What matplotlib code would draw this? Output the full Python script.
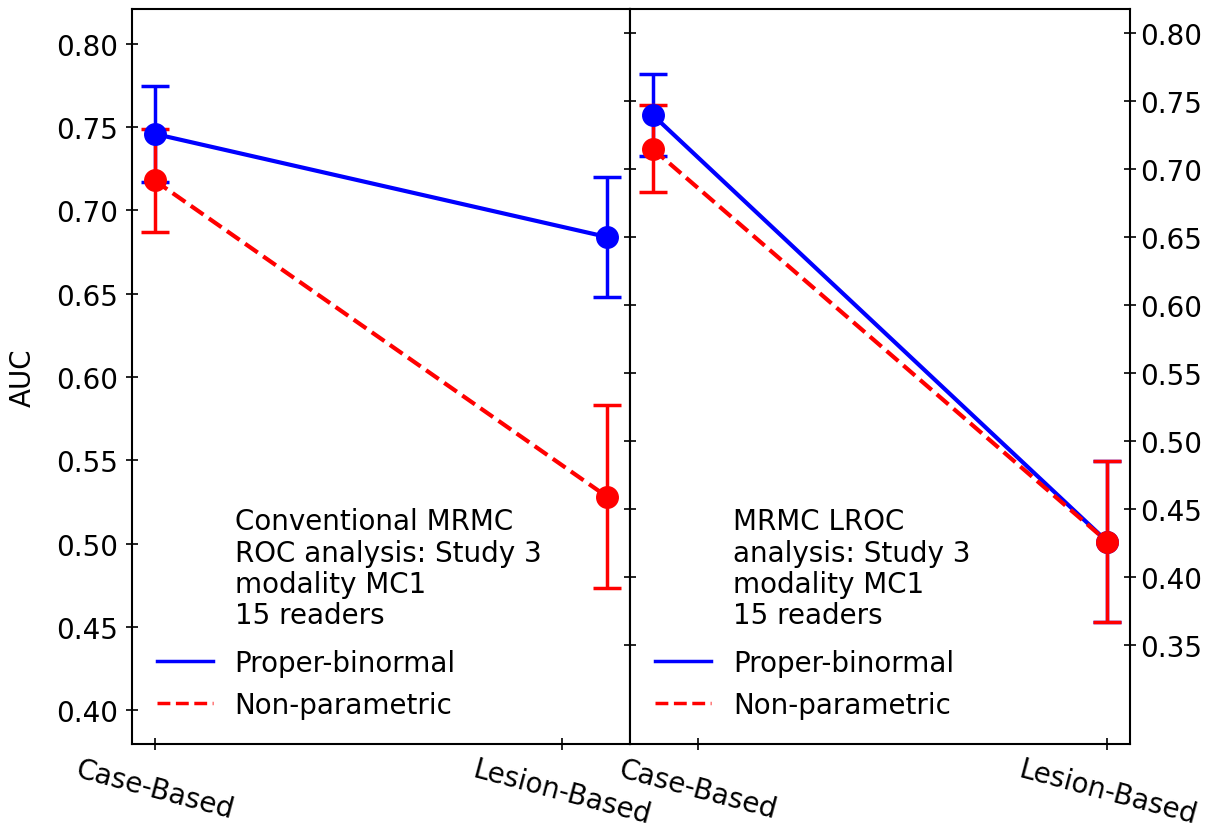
import numpy as np
import matplotlib
matplotlib.use("Agg")
import matplotlib.pyplot as plt
from matplotlib.lines import Line2D

# AUC values, case-based vs lesion-based, for study 3 / modality MC1
methods = ["Case-Based", "Lesion-Based"]

roc_binormal = [0.746, 0.684]
roc_binormal_err = [0.029, 0.036]
roc_nonpar = [0.718, 0.528]
roc_nonpar_err = [0.031, 0.055]

lroc_binormal = [0.740, 0.426]
lroc_binormal_err = [0.030, 0.059]
lroc_nonpar = [0.715, 0.426]
lroc_nonpar_err = [0.032, 0.059]

roc_ticks = [0.40, 0.45, 0.50, 0.55, 0.60, 0.65, 0.70, 0.75, 0.80]
lroc_ticks = [0.35, 0.40, 0.45, 0.50, 0.55, 0.60, 0.65, 0.70, 0.75, 0.80]

plt.rcParams["font.size"] = 20

fig = plt.figure(figsize=(12.15, 8.29), dpi=100)
ax1 = fig.add_axes([0.1086, 0.1013, 0.4099, 0.8867])
ax2 = fig.add_axes([0.5185, 0.1013, 0.4115, 0.8867])

x = np.arange(len(methods))


def draw_panel(ax, pb, pb_err, npar, npar_err, note):
    ax.errorbar(x, pb, yerr=pb_err, color="blue", ls="-", lw=3,
                marker="o", ms=15.5, capsize=10, elinewidth=2.5, capthick=2.5)
    ax.errorbar(x, npar, yerr=npar_err, color="red", ls="--", lw=3,
                marker="o", ms=15.5, capsize=10, elinewidth=2.5, capthick=2.5)
    ax.set_xlim(-0.05, 1.05)
    ax.text(0.207, 0.322, note, transform=ax.transAxes,
            va="top", ha="left", linespacing=1.15)
    handles = [Line2D([], [], color="blue", lw=2.5, ls="-"),
               Line2D([], [], color="red", lw=2.5, ls="--")]
    ax.legend(handles, ["Proper-binormal", "Non-parametric"],
              loc="lower left", frameon=False)
    for sp in ax.spines.values():
        sp.set_linewidth(1.5)


draw_panel(ax1, roc_binormal, roc_binormal_err, roc_nonpar, roc_nonpar_err,
           "Conventional MRMC\nROC analysis: Study 3\nmodality MC1\n15 readers")
draw_panel(ax2, lroc_binormal, lroc_binormal_err, lroc_nonpar, lroc_nonpar_err,
           "MRMC LROC\nanalysis: Study 3\nmodality MC1\n15 readers")

ax1.set_ylim(0.3796, 0.821)
ax1.set_yticks(roc_ticks)
ax1.set_yticklabels([f"{t:.2f}" for t in roc_ticks])
ax1.set_ylabel("AUC", labelpad=14)
ax1.set_xticks([0.0, 0.9])
ax1.set_xticklabels(methods, rotation=-15, ha="center")
ax1.tick_params(direction="inout", length=8, width=1.2)
ax1.tick_params(axis="y", pad=6)

ax2.set_ylim(0.277, 0.818)
ax2.set_yticks(lroc_ticks)
ax2.set_yticklabels([f"{t:.2f}" for t in lroc_ticks])
ax2.yaxis.tick_right()
ax2.tick_params(axis="y", left=True, right=True, labelleft=False,
                labelright=True)
ax2.set_xticks([0.1, 1.0])
ax2.set_xticklabels(methods, rotation=-15, ha="center")
ax2.tick_params(direction="inout", length=8, width=1.2)

fig.savefig("out.png", dpi=100)
